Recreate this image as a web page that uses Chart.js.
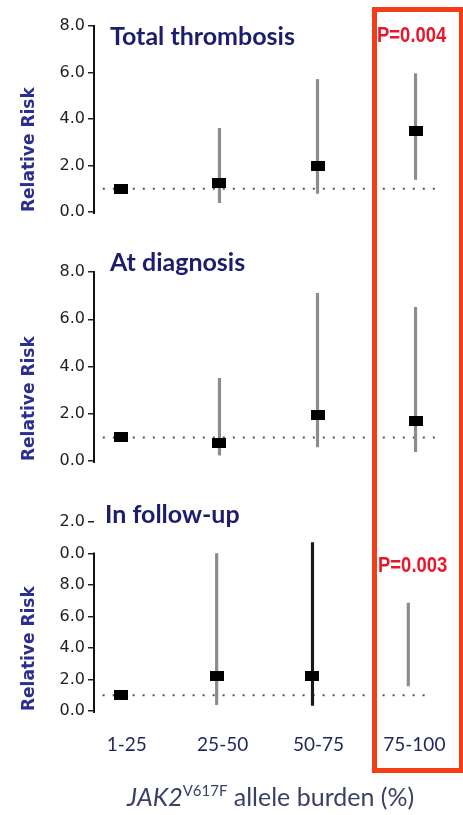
<!DOCTYPE html>
<html><head><meta charset="utf-8">
<script src="https://cdn.jsdelivr.net/npm/chart.js@4"></script>
<style>
html,body{margin:0;padding:0;background:#fff;}
#wrap{position:relative;width:463px;height:815px;overflow:hidden;background:#fff;}
#wrap canvas{position:absolute;left:0;top:0;}
.ttl{position:absolute;font-family:Lato,sans-serif;font-weight:700;font-size:25px;color:#1c1e6c;white-space:nowrap;line-height:25px;}
.pv{position:absolute;font-family:"Liberation Sans",sans-serif;font-weight:700;font-size:22px;color:#e8182c;line-height:22px;white-space:nowrap;transform:scaleX(0.84);transform-origin:0 0;}
#box{position:absolute;left:372px;top:7px;width:92px;height:766px;box-sizing:border-box;border:5px solid #f33d17;}
#xt{position:absolute;left:127px;top:783px;font-family:Lato,sans-serif;font-size:25px;color:#3a3f63;white-space:nowrap;line-height:26px;}
#xt sup{font-size:15px;vertical-align:10px;line-height:0;}
</style></head>
<body>
<div id="wrap">
  <canvas id="c1" width="463" height="815"></canvas>
  <canvas id="c2" width="463" height="815"></canvas>
  <canvas id="c3" width="463" height="815"></canvas>
  <div id="box"></div>
  <div class="ttl" id="t1" style="left:110px;top:23px;"></div>
  <div class="ttl" id="t2" style="left:110px;top:249px;"></div>
  <div class="ttl" id="t3" style="left:105px;top:501px;"></div>
  <div class="pv" id="p1" style="left:377px;top:24px;"></div>
  <div class="pv" id="p3" style="left:378px;top:554px;"></div>
  <div id="xt"><i>JAK2</i><sup>V617F</sup> allele burden (%)</div>
</div>
<script>
// ---- data ----
const categories = ['1-25', '25-50', '50-75', '75-100'];
const panelTitles = ['Total thrombosis', 'At diagnosis', 'In follow-up'];
const yAxisTitle = 'Relative Risk';

const totalRR   = [1.0, 1.25, 2.0, 3.5];
const totalLow  = [null, 0.4, 0.8, 1.4];
const totalHigh = [null, 3.6, 5.7, 5.95];

const diagRR   = [1.0, 0.75, 1.95, 1.7];
const diagLow  = [null, 0.25, 0.6, 0.4];
const diagHigh = [null, 3.5, 7.1, 6.5];

const followRR   = [1.0, 2.2, 2.2, null];
const followLow  = [null, 0.4, 0.35, 1.6];
const followHigh = [null, 10.0, 10.7, 6.85];

const yTicksTop = ['0.0', '2.0', '4.0', '6.0', '8.0'];
const yTicksFollow = ['0.0', '2.0', '4.0', '6.0', '8.0', '0.0', '2.0'];

const pTotal = 'P=0.004';
const pFollow = 'P=0.003';

// ---- text overlays ----
document.getElementById('t1').textContent = panelTitles[0];
document.getElementById('t2').textContent = panelTitles[1];
document.getElementById('t3').textContent = panelTitles[2];
document.getElementById('p1').textContent = pTotal;
document.getElementById('p3').textContent = pFollow;

// ---- marker image ----
const marker = document.createElement('canvas');
marker.width = 14; marker.height = 10;
const mctx = marker.getContext('2d');
mctx.fillStyle = '#000';
mctx.fillRect(0, 0, 14, 10);

const refPlugin = {
  id: 'refline',
  beforeDatasetsDraw(chart, args, o) {
    const { ctx, chartArea } = chart;
    const x = chart.scales.x, y = chart.scales.y;
    ctx.save();
    const py = y.getPixelForValue(1);
    ctx.setLineDash([2, 8]);
    ctx.strokeStyle = '#555';
    ctx.lineWidth = 2;
    ctx.beginPath();
    ctx.moveTo(x.getPixelForValue(0.81), py);
    ctx.lineTo(x.getPixelForValue(4.2), py);
    ctx.stroke();
    ctx.setLineDash([]);
    ctx.strokeStyle = '#111';
    ctx.lineWidth = 2;
    ctx.beginPath();
    ctx.moveTo(chartArea.left, y.getPixelForValue(o.axisTop) - 1);
    ctx.lineTo(chartArea.left, y.getPixelForValue(0) + 2);
    ctx.stroke();
    ctx.restore();
  }
};

function makePanel(id, rr, low, high, ciColors, yLabels, yMax, axisTop, pad, showX) {
  const bars = [], barColors = [], pts = [];
  categories.forEach((c, i) => {
    if (low[i] != null && high[i] != null) {
      bars.push({ x: i + 1, y: [low[i], high[i]] });
      barColors.push(ciColors[i]);
    }
    if (rr[i] != null) pts.push({ x: i + 1, y: rr[i] });
  });
  new Chart(document.getElementById(id), {
    type: 'bar',
    data: {
      datasets: [
        { type: 'scatter', data: pts, pointStyle: marker, pointRadius: 7, showLine: false, order: 0 },
        { type: 'bar', data: bars, backgroundColor: barColors, barThickness: 2.5, grouped: false, order: 1, borderWidth: 0 }
      ]
    },
    options: {
      responsive: false,
      animation: false,
      events: [],
      layout: { padding: pad },
      plugins: { legend: { display: false }, tooltip: { enabled: false }, refline: { axisTop: axisTop } },
      scales: {
        x: {
          type: 'linear', min: 0.72, max: 4.27, display: showX, offset: false,
          grid: { display: false, drawTicks: false }, border: { display: false },
          afterBuildTicks: s => { s.ticks = categories.map((c, i) => ({ value: i + 1 })); },
          afterFit: s => { if (showX) s.height = 40; },
          ticks: {
            autoSkip: false, maxRotation: 0, padding: 22, labelOffset: 6,
            color: '#1f2658', font: { family: 'Lato, sans-serif', size: 19 },
            callback: v => categories[Math.round(v) - 1] || ''
          }
        },
        y: {
          min: 0, max: yMax,
          afterBuildTicks: s => { s.ticks = yLabels.map((l, i) => ({ value: i * 2 })); },
          afterFit: s => { s.width = 94; },
          ticks: {
            autoSkip: false, padding: 3, color: '#1e1e1e',
            font: { family: '"DejaVu Sans", sans-serif', size: 16 },
            callback: (v, i) => yLabels[i]
          },
          grid: { drawOnChartArea: false, drawTicks: true, tickLength: 6, color: '#222', lineWidth: 1.5 },
          border: { display: false },
          title: {
            display: true, text: yAxisTitle, align: 'start', color: '#2b2f8f',
            font: { family: '"DejaVu Sans", sans-serif', size: 17, weight: 'bold' },
            padding: { top: 19, bottom: 0 }
          }
        }
      }
    },
    plugins: [refPlugin]
  });
}

const grey = '#8c8c8c';
makePanel('c1', totalRR, totalLow, totalHigh, [grey, grey, grey, grey], yTicksTop, 8, 8,
  { top: 26, bottom: 603, left: 0, right: 21 }, false);
makePanel('c2', diagRR, diagLow, diagHigh, [grey, grey, grey, grey], yTicksTop, 8, 8,
  { top: 272, bottom: 354, left: 0, right: 21 }, false);
makePanel('c3', followRR, followLow, followHigh, [grey, grey, '#1a1a1a', grey], yTicksFollow, 12, 10,
  { top: 522, bottom: 64, left: 0, right: 21 }, true);
</script>
</body></html>
